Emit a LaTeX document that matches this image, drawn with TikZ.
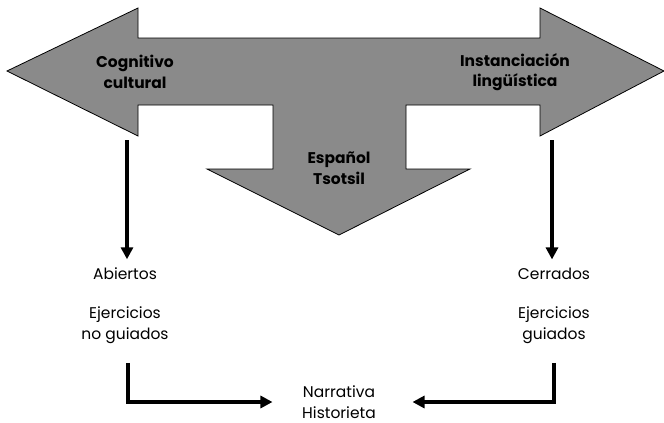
\documentclass[tikz,border=0pt]{standalone}
\usepackage{fontspec}
\setmainfont{Poppins}
\usetikzlibrary{arrows.meta,positioning}
\definecolor{arrowgray}{RGB}{138,138,138}

\begin{document}
\begin{tikzpicture}[x=1pt,y=-1pt,>={Triangle[length=12pt,width=12pt]},
                    line width=3.5pt]
  \tikzstyle{bigarrow}=[fill=arrowgray,draw=black,line width=0.8pt,line join=miter]
  \tikzstyle{head}=[font=\bfseries\fontsize{15.5}{20.5}\selectfont,align=center,inner sep=0pt]
  \tikzstyle{plain}=[font=\fontsize{15.5}{20.5}\selectfont,align=center,inner sep=0pt]
  \useasboundingbox (0,0) rectangle (664,423);

  % the three-way arrow
  \draw[bigarrow] (7,71) -- (138,8) -- (138,38) -- (540,38) -- (540,8)
    -- (664,71) -- (540,136) -- (540,105) -- (406,105) -- (406,169)
    -- (470,169) -- (339,235) -- (207,169) -- (273,169) -- (273,105)
    -- (138,105) -- (138,136) -- cycle;

  \node[head] (C) at (135,72) {Cognitivo\\cultural};
  \node[head] (I) at (515,72) {Instanciación\\lingüística};
  \node[head] (E) at (339,168) {Español\\Tsotsil};

  \node[plain] (A) at (125,274) {Abiertos};
  \node[plain] (EA) at (125,325) {Ejercicios\\no guiados};
  \node[plain] (Ce) at (554,274) {Cerrados};
  \node[plain] (EC) at (554,325) {Ejercicios\\guiados};
  \node[plain] (N) at (339,402) {Narrativa\\Historieta};

  \coordinate (CL) at (127,140);
  \coordinate (CR) at (552,140);

  \draw[->] (CL) -- (CL |- A.north) [shorten >=7pt];
  \draw[->] (CR) -- (CR |- Ce.north) [shorten >=7pt];
  \draw[->,shorten <=18pt,shorten >=28pt] (EA.south) ++(3,0) |- (N.west);
  \draw[->,shorten <=18pt,shorten >=35pt] (EC.south) |- (N.east);
\end{tikzpicture}
\end{document}
